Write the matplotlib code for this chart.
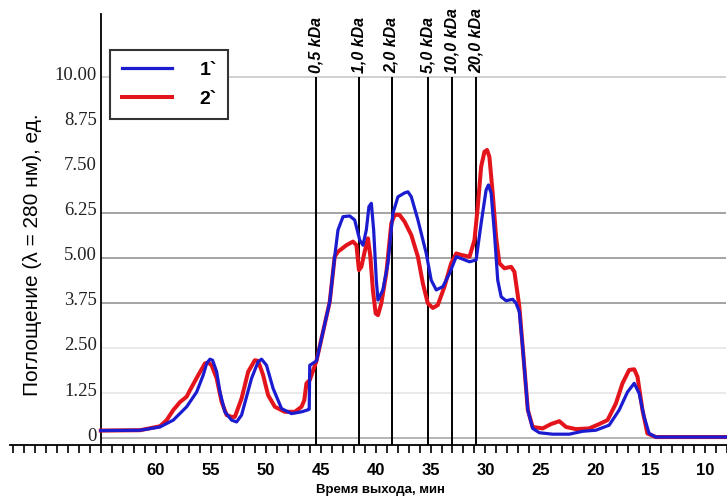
import matplotlib.pyplot as plt
from matplotlib.transforms import ScaledTranslation

# curve 1` (blue): retention time, min / absorbance
t1 = [65.03, 61.45, 59.64, 58.43, 57.21, 56.30, 55.70, 55.39, 55.09, 54.85, 54.48, 54.18,
      53.73, 53.12, 52.66, 52.21, 51.30, 50.70, 50.39, 49.94, 49.34, 48.57, 47.66, 46.75,
      46.21, 46.05, 46.0, 45.39, 44.18, 43.73, 43.43, 42.97, 42.36, 41.91, 41.45, 41.15,
      40.85, 40.61, 40.39, 40.18, 39.94, 39.79, 39.34, 38.88, 38.43, 37.97, 37.36, 37.06,
      36.75, 36.15, 35.39, 34.94, 34.48, 33.88, 33.27, 32.66, 32.21, 31.45, 30.85, 30.39,
      29.94, 29.73, 29.48, 29.18, 28.88, 28.57, 28.12, 27.52, 27.21, 26.91, 26.61, 26.14,
      25.70, 25.09, 23.88, 22.36, 21.15, 19.94, 18.73, 17.82, 17.06, 16.45, 16.0, 15.55,
      15.09, 14.48, 8.09]
a1 = [0.21, 0.22, 0.31, 0.50, 0.87, 1.28, 1.75, 2.07, 2.19, 2.16, 1.84, 1.28,
      0.73, 0.50, 0.45, 0.64, 1.66, 2.12, 2.19, 2.02, 1.38, 0.82, 0.68, 0.73,
      0.78, 0.80, 2.02, 2.14, 3.78, 5.03, 5.77, 6.14, 6.16, 6.05, 5.49, 5.35,
      5.77, 6.42, 6.51, 5.77, 4.38, 3.83, 4.11, 4.85, 6.23, 6.69, 6.80, 6.83,
      6.69, 6.05, 5.12, 4.38, 4.11, 4.20, 4.57, 5.03, 4.98, 4.89, 4.94, 5.96,
      6.88, 7.02, 6.79, 5.68, 4.38, 3.92, 3.81, 3.85, 3.74, 3.50, 2.53, 0.78,
      0.27, 0.15, 0.11, 0.11, 0.19, 0.22, 0.36, 0.78, 1.28, 1.52, 1.24, 0.59,
      0.13, 0.03, 0.03]

# curve 2` (red)
t2 = [65.03, 61.45, 59.64, 59.03, 58.43, 58.12, 57.82, 57.21, 56.91, 56.15, 55.55, 55.25,
      54.94, 54.48, 54.03, 53.57, 53.12, 52.82, 52.21, 51.61, 51.0, 50.70, 50.25, 49.79,
      49.18, 48.27, 47.36, 46.75, 46.5, 46.30, 46.0, 45.39, 44.18, 43.73, 43.43, 42.66,
      42.06, 41.75, 41.52, 41.30, 41.0, 40.70, 40.48, 40.25, 40.0, 39.79, 39.48, 39.03,
      38.57, 38.27, 37.82, 37.36, 36.75, 36.15, 35.70, 35.25, 34.79, 34.34, 33.73, 33.12,
      32.66, 32.21, 31.45, 31.0, 30.70, 30.39, 30.09, 29.85, 29.64, 29.34, 29.03, 28.73,
      28.27, 27.66, 27.36, 27.12, 26.91, 26.61, 26.14, 25.70, 24.79, 24.03, 23.27, 22.66,
      21.75, 20.55, 19.64, 18.88, 18.12, 17.52, 16.91, 16.45, 16.15, 15.70, 15.25, 14.48,
      8.09]
a2 = [0.21, 0.22, 0.33, 0.50, 0.78, 0.89, 1.00, 1.15, 1.33, 1.75, 2.07, 2.10,
      2.02, 1.66, 1.01, 0.64, 0.59, 0.59, 1.10, 1.84, 2.16, 2.14, 1.75, 1.19,
      0.87, 0.73, 0.73, 0.87, 1.05, 1.52, 1.61, 2.14, 3.78, 5.03, 5.17, 5.35,
      5.45, 5.35, 4.66, 4.75, 5.17, 5.54, 5.03, 4.11, 3.46, 3.41, 3.74, 4.57,
      5.96, 6.19, 6.19, 6.0, 5.63, 5.03, 4.29, 3.74, 3.61, 3.69, 4.20, 4.85,
      5.12, 5.08, 5.03, 5.49, 6.42, 7.53, 7.94, 7.99, 7.80, 6.79, 5.58, 4.85,
      4.71, 4.75, 4.61, 4.10, 3.64, 2.53, 0.78, 0.31, 0.27, 0.39, 0.47, 0.31,
      0.25, 0.27, 0.39, 0.50, 0.96, 1.52, 1.89, 1.91, 1.70, 0.78, 0.13, 0.03,
      0.03]

# molecular weight markers
mw_t = [45.45, 41.55, 38.55, 35.27, 33.09, 30.82]
mw_lbl = ['0,5 kDa', '1,0 kDa', '2,0 kDa', '5,0 kDa', '10,0 kDa', '20,0 kDa']

yticks = [0, 1.25, 2.5, 3.75, 5.0, 6.25, 7.5, 8.75, 10.0]
ytick_lbl = ['0', '1.25', '2.50', '3.75', '5.00', '6.25', '7.50', '8.75', '10.00']
grid_col = ['#a0a0a0', '#e4e4e4', '#e4e4e4', '#8c8c8c', '#8c8c8c', '#8c8c8c', 'none', 'none', '#c4c4c4']
xticks = [60, 55, 50, 45, 40, 35, 30, 25, 20, 15, 10]

narrow = ['Liberation Sans Narrow', 'Liberation Sans', 'DejaVu Sans']

fig = plt.figure(figsize=(7.27, 4.96), dpi=100)
ax = fig.add_axes([10 / 727, 51 / 496, 717 / 727, 431 / 496])
ax.set_xlim(73.3, 8.1)
ax.set_ylim(-0.19, 11.76)

# horizontal grid only right of the y axis
ax.hlines(yticks, 65, 8.1, colors=grid_col, lw=1.1, zorder=1)

# marker lines
ax.vlines(mw_t, -0.19, 10.0, color='black', lw=1.4, zorder=2)
for x, s in zip(mw_t, mw_lbl):
    ax.text(x, 10.13, s, rotation=90, ha='center', va='bottom', style='italic',
            fontweight='bold', fontsize=11.5, family=narrow, clip_on=False)

l2, = ax.plot(t2, a2, color='#e4141c', lw=2.9, zorder=3, solid_joinstyle='round')
l1, = ax.plot(t1, a1, color='#1b1bd0', lw=2.3, zorder=4, solid_joinstyle='round')

# axes styling
for s in ['top', 'right']:
    ax.spines[s].set_visible(False)
ax.spines['left'].set_position(('data', 65))
ax.spines['left'].set_linewidth(1.3)
ax.spines['bottom'].set_linewidth(1.3)

ax.set_yticks(yticks)
ax.set_yticklabels(ytick_lbl, family='Liberation Serif', fontsize=13.5, color='#222222')
ax.tick_params(axis='y', length=0, pad=3)
off = ScaledTranslation(0, 4 / 100, fig.dpi_scale_trans)
for lab in ax.get_yticklabels():
    lab.set_transform(lab.get_transform() + off)

ax.set_xticks(xticks)
ax.set_xticklabels([str(v) for v in xticks], fontweight='bold', fontsize=12,
                   family='Liberation Sans')
ax.set_xticks(range(8, 74), minor=True)
ax.tick_params(axis='x', which='both', direction='out', length=6, width=1.2, pad=7)

fig.text(33 / 727, 1 - 255 / 496, 'Поглощение (λ = 280 нм), ед.', rotation=90,
         ha='center', va='center', fontsize=15, family=narrow)
fig.text(380 / 727, 1 - 490 / 496, 'Время выхода, мин', ha='center', va='center',
         fontsize=9.5, fontweight='bold', family='Liberation Sans')

leg = ax.legend([l1, l2], ['1`', '2`'], loc='upper left',
                bbox_to_anchor=(110 / 727, 1 - 50 / 496), bbox_transform=fig.transFigure,
                fancybox=False, framealpha=1, edgecolor='#333333',
                prop={'weight': 'bold', 'size': 14, 'family': 'Liberation Sans'},
                handlelength=2.6, handletextpad=1.4, labelspacing=0.55,
                borderpad=0.6, borderaxespad=0)
leg.get_frame().set_linewidth(1.5)

fig.savefig('out.png', dpi=100)
